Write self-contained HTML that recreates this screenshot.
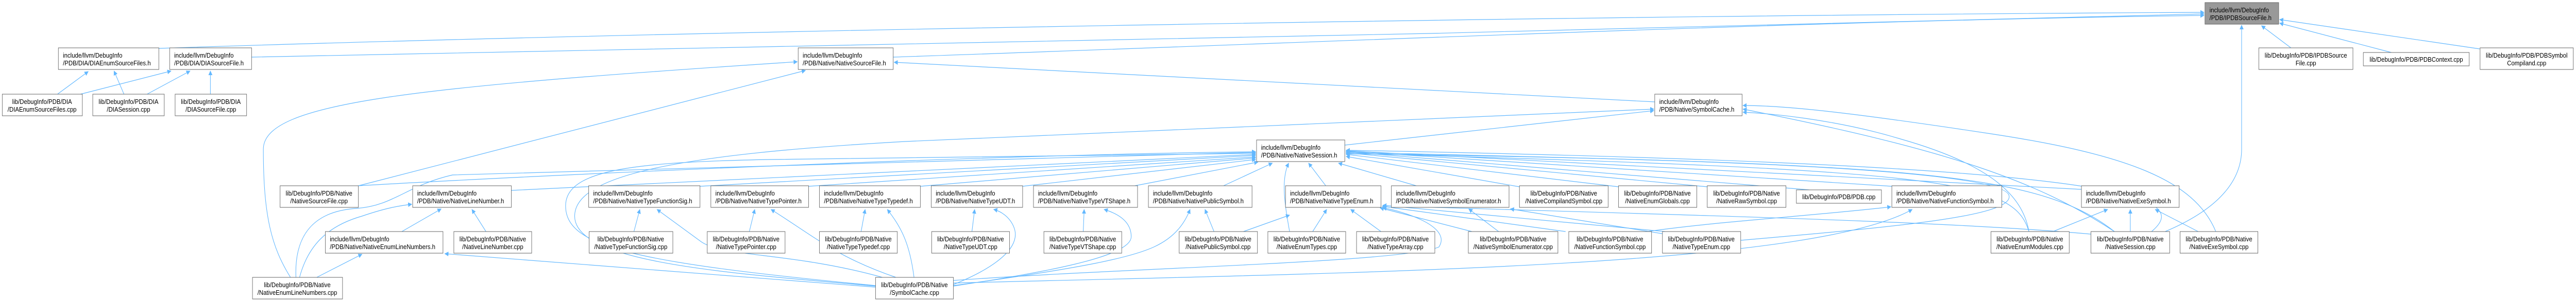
<!DOCTYPE html>
<html><head><meta charset="utf-8"><style>
html,body{margin:0;padding:0;background:#fff;width:100%;height:100%;overflow:hidden;}
svg{display:block;width:100vw;height:100vh;}
text{font-family:"Liberation Sans",Helvetica,sans-serif;font-size:13px;fill:#000;}
.b{fill:#fff;stroke:#666;stroke-width:1;}
.e{fill:none;stroke:#63b8ff;stroke-width:1.2;}
</style></head><body>
<svg viewBox="0 0 5693 583" preserveAspectRatio="none" xmlns="http://www.w3.org/2000/svg">
<defs><marker id="a" viewBox="0 0 10 10" refX="9" refY="5" markerWidth="9" markerHeight="9" orient="auto" markerUnits="userSpaceOnUse"><path d="M0,0 L10,5 L0,10 z" fill="#63b8ff"/></marker></defs>
<g class="e" marker-end="url(#a)">
<path d="M351,94 C1500,60 3500,30 4871,24"/>
<path d="M556,111 C1500,100 3500,60 4871,27"/>
<path d="M1974,111 C3000,80 4000,40 4871,30"/>
<path d="M4785,450 C4920,400 4954,340 4954,290 L4954,49"/>
<path d="M5063,93 L4998,50"/>
<path d="M5285,102 L5038,45"/>
<path d="M5480,95 L5038,38"/>
<path d="M127,183 L195,139"/>
<path d="M274,183 L252,138"/>
<path d="M178,183 L378,138"/>
<path d="M325,183 L420,138"/>
<path d="M465,183 L465,138"/>
<path d="M642,539 C600,480 582,420 582,290 C582,200 900,170 1762,120"/>
<path d="M792,361 L1780,137"/>
<path d="M3657,198 L1976,121"/>
<path d="M1935,556 C1600,530 1270,510 1270,420 C1270,340 1500,300 2000,275 L3655,212"/>
<path d="M2972,282 L3655,215"/>
<path d="M4484,450 C4470,380 4400,320 4200,270 C4050,230 3900,220 3852,218"/>
<path d="M4673,450 C4500,350 4300,290 3852,212"/>
<path d="M4897,450 C4850,350 4700,300 4400,260 C4100,220 3950,205 3852,205"/>
<path d="M792,361 C1200,340 2200,300 2775,295"/>
<path d="M1130,370 L2775,300"/>
<path d="M654,539 C650,450 700,410 788,405 C870,400 900,360 1000,340 L2775,296"/>
<path d="M1547,362 L2775,302"/>
<path d="M1787,362 L2775,305"/>
<path d="M2034,362 L2775,307"/>
<path d="M2260,362 L2775,310"/>
<path d="M2508,361 L2780,315"/>
<path d="M2704,361 L2812,317"/>
<path d="M2930,361 L2892,317"/>
<path d="M3130,361 L2958,317"/>
<path d="M3358,363 L2975,304"/>
<path d="M3577,363 L2975,300"/>
<path d="M3773,363 L2975,297"/>
<path d="M3999,369 L2975,295"/>
<path d="M4181,362 L2975,294"/>
<path d="M4600,368 L2975,293"/>
<path d="M4673,450 C4500,330 4200,320 2975,296"/>
<path d="M4484,450 C4450,350 4300,330 2975,298"/>
<path d="M4755,450 C4850,380 4700,320 2975,292"/>
<path d="M1935,555 C1400,510 1250,480 1250,400 C1250,330 1400,315 1700,310 L2775,298"/>
<path d="M2850,450 C2840,400 2830,350 2848,317"/>
<path d="M1074,450 L1043,407"/>
<path d="M888,450 L975,406"/>
<path d="M662,539 C680,480 720,440 800,420 C850,405 880,400 910,397"/>
<path d="M700,539 L800,494"/>
<path d="M1935,558 L983,493"/>
<path d="M1401,450 L1414,407"/>
<path d="M1950,539 C1750,490 1600,500 1550,470 L1452,407"/>
<path d="M1656,450 L1668,407"/>
<path d="M1980,539 C1850,500 1800,460 1704,407"/>
<path d="M1903,450 L1912,407"/>
<path d="M2020,539 C2010,470 1990,440 1961,407"/>
<path d="M2148,450 L2154,407"/>
<path d="M2107,553 C2200,520 2260,480 2240,440 C2230,420 2210,410 2196,407"/>
<path d="M2394,450 L2396,407"/>
<path d="M2107,556 C2300,530 2500,500 2500,460 C2500,430 2470,415 2440,407"/>
<path d="M2683,450 L2663,407"/>
<path d="M2107,555 C2400,520 2500,500 2550,480 C2600,460 2620,430 2630,407"/>
<path d="M2748,450 L2850,418"/>
<path d="M2901,450 L2932,407"/>
<path d="M3052,450 L2985,407"/>
<path d="M3253,450 L3050,404"/>
<path d="M3460,450 L3055,401"/>
<path d="M3680,450 L3056,399"/>
<path d="M2107,545 C2500,520 3100,510 3180,480 C3210,440 3100,410 3056,404"/>
<path d="M3312,450 L3246,406"/>
<path d="M3680,455 L3338,406"/>
<path d="M3640,450 C3800,430 4000,420 4179,402"/>
<path d="M2107,550 C3000,530 4000,520 4226,407"/>
<path d="M3847,467 C4200,440 4450,420 4440,380 C4430,340 4000,310 2975,299"/>
<path d="M4537,450 L4658,407"/>
<path d="M4708,450 L4708,407"/>
<path d="M4858,450 L4763,407"/>
<path d="M4621,455 C4300,430 3800,420 3056,400"/>
</g>
<g>
<rect x="4873" y="5" width="163" height="42" fill="#999" stroke="#666"/>
<text x="4883" y="24">include/llvm/DebugInfo</text><text x="4883" y="39">/PDB/IPDBSourceFile.h</text>

<rect class="b" x="129" y="93" width="222" height="42"/><text x="139" y="112">include/llvm/DebugInfo</text><text x="139" y="127">/PDB/DIA/DIAEnumSourceFiles.h</text>
<rect class="b" x="375" y="93" width="181" height="42"/><text x="385" y="112">include/llvm/DebugInfo</text><text x="385" y="127">/PDB/DIA/DIASourceFile.h</text>
<rect class="b" x="1764" y="93" width="210" height="42"/><text x="1774" y="112">include/llvm/DebugInfo</text><text x="1774" y="127">/PDB/Native/NativeSourceFile.h</text>
<rect class="b" x="4992" y="93" width="208" height="42"/><text x="5096" y="112" text-anchor="middle">lib/DebugInfo/PDB/IPDBSource</text><text x="5096" y="127" text-anchor="middle">File.cpp</text>
<rect class="b" x="5223" y="102" width="234" height="26"/><text x="5340" y="120" text-anchor="middle">lib/DebugInfo/PDB/PDBContext.cpp</text>
<rect class="b" x="5481" y="93" width="206" height="42"/><text x="5584" y="112" text-anchor="middle">lib/DebugInfo/PDB/PDBSymbol</text><text x="5584" y="127" text-anchor="middle">Compiland.cpp</text>

<rect class="b" x="5" y="183" width="177" height="42"/><text x="93" y="202" text-anchor="middle">lib/DebugInfo/PDB/DIA</text><text x="93" y="217" text-anchor="middle">/DIAEnumSourceFiles.cpp</text>
<rect class="b" x="205" y="183" width="158" height="42"/><text x="284" y="202" text-anchor="middle">lib/DebugInfo/PDB/DIA</text><text x="284" y="217" text-anchor="middle">/DIASession.cpp</text>
<rect class="b" x="387" y="183" width="158" height="42"/><text x="466" y="202" text-anchor="middle">lib/DebugInfo/PDB/DIA</text><text x="466" y="217" text-anchor="middle">/DIASourceFile.cpp</text>
<rect class="b" x="3657" y="183" width="193" height="42"/><text x="3667" y="202">include/llvm/DebugInfo</text><text x="3667" y="217">/PDB/Native/SymbolCache.h</text>

<rect class="b" x="2777" y="272" width="195" height="42"/><text x="2787" y="291">include/llvm/DebugInfo</text><text x="2787" y="306">/PDB/Native/NativeSession.h</text>

<rect class="b" x="619" y="361" width="173" height="42"/><text x="705" y="380" text-anchor="middle">lib/DebugInfo/PDB/Native</text><text x="705" y="395" text-anchor="middle">/NativeSourceFile.cpp</text>
<rect class="b" x="912" y="361" width="218" height="42"/><text x="922" y="380">include/llvm/DebugInfo</text><text x="922" y="395">/PDB/Native/NativeLineNumber.h</text>
<rect class="b" x="1301" y="361" width="246" height="42"/><text x="1311" y="380">include/llvm/DebugInfo</text><text x="1311" y="395">/PDB/Native/NativeTypeFunctionSig.h</text>
<rect class="b" x="1571" y="361" width="216" height="42"/><text x="1581" y="380">include/llvm/DebugInfo</text><text x="1581" y="395">/PDB/Native/NativeTypePointer.h</text>
<rect class="b" x="1811" y="361" width="223" height="42"/><text x="1821" y="380">include/llvm/DebugInfo</text><text x="1821" y="395">/PDB/Native/NativeTypeTypedef.h</text>
<rect class="b" x="2058" y="361" width="202" height="42"/><text x="2068" y="380">include/llvm/DebugInfo</text><text x="2068" y="395">/PDB/Native/NativeTypeUDT.h</text>
<rect class="b" x="2284" y="361" width="230" height="42"/><text x="2294" y="380">include/llvm/DebugInfo</text><text x="2294" y="395">/PDB/Native/NativeTypeVTShape.h</text>
<rect class="b" x="2538" y="361" width="229" height="42"/><text x="2548" y="380">include/llvm/DebugInfo</text><text x="2548" y="395">/PDB/Native/NativePublicSymbol.h</text>
<rect class="b" x="2841" y="361" width="211" height="42"/><text x="2851" y="380">include/llvm/DebugInfo</text><text x="2851" y="395">/PDB/Native/NativeTypeEnum.h</text>
<rect class="b" x="3075" y="361" width="260" height="42"/><text x="3085" y="380">include/llvm/DebugInfo</text><text x="3085" y="395">/PDB/Native/NativeSymbolEnumerator.h</text>
<rect class="b" x="3358" y="361" width="196" height="42"/><text x="3456" y="380" text-anchor="middle">lib/DebugInfo/PDB/Native</text><text x="3456" y="395" text-anchor="middle">/NativeCompilandSymbol.cpp</text>
<rect class="b" x="3577" y="361" width="173" height="42"/><text x="3663" y="380" text-anchor="middle">lib/DebugInfo/PDB/Native</text><text x="3663" y="395" text-anchor="middle">/NativeEnumGlobals.cpp</text>
<rect class="b" x="3773" y="361" width="174" height="42"/><text x="3860" y="380" text-anchor="middle">lib/DebugInfo/PDB/Native</text><text x="3860" y="395" text-anchor="middle">/NativeRawSymbol.cpp</text>
<rect class="b" x="3970" y="369" width="188" height="26"/><text x="4064" y="387" text-anchor="middle">lib/DebugInfo/PDB/PDB.cpp</text>
<rect class="b" x="4181" y="361" width="243" height="42"/><text x="4191" y="380">include/llvm/DebugInfo</text><text x="4191" y="395">/PDB/Native/NativeFunctionSymbol.h</text>
<rect class="b" x="4600" y="361" width="216" height="42"/><text x="4610" y="380">include/llvm/DebugInfo</text><text x="4610" y="395">/PDB/Native/NativeExeSymbol.h</text>

<rect class="b" x="719" y="450" width="260" height="42"/><text x="729" y="469">include/llvm/DebugInfo</text><text x="729" y="484">/PDB/Native/NativeEnumLineNumbers.h</text>
<rect class="b" x="1003" y="450" width="172" height="42"/><text x="1089" y="469" text-anchor="middle">lib/DebugInfo/PDB/Native</text><text x="1089" y="484" text-anchor="middle">/NativeLineNumber.cpp</text>
<rect class="b" x="1302" y="450" width="185" height="42"/><text x="1394" y="469" text-anchor="middle">lib/DebugInfo/PDB/Native</text><text x="1394" y="484" text-anchor="middle">/NativeTypeFunctionSig.cpp</text>
<rect class="b" x="1563" y="450" width="172" height="42"/><text x="1649" y="469" text-anchor="middle">lib/DebugInfo/PDB/Native</text><text x="1649" y="484" text-anchor="middle">/NativeTypePointer.cpp</text>
<rect class="b" x="1811" y="450" width="172" height="42"/><text x="1897" y="469" text-anchor="middle">lib/DebugInfo/PDB/Native</text><text x="1897" y="484" text-anchor="middle">/NativeTypeTypedef.cpp</text>
<rect class="b" x="2059" y="450" width="172" height="42"/><text x="2145" y="469" text-anchor="middle">lib/DebugInfo/PDB/Native</text><text x="2145" y="484" text-anchor="middle">/NativeTypeUDT.cpp</text>
<rect class="b" x="2307" y="450" width="172" height="42"/><text x="2393" y="469" text-anchor="middle">lib/DebugInfo/PDB/Native</text><text x="2393" y="484" text-anchor="middle">/NativeTypeVTShape.cpp</text>
<rect class="b" x="2606" y="450" width="173" height="42"/><text x="2692" y="469" text-anchor="middle">lib/DebugInfo/PDB/Native</text><text x="2692" y="484" text-anchor="middle">/NativePublicSymbol.cpp</text>
<rect class="b" x="2802" y="450" width="172" height="42"/><text x="2888" y="469" text-anchor="middle">lib/DebugInfo/PDB/Native</text><text x="2888" y="484" text-anchor="middle">/NativeEnumTypes.cpp</text>
<rect class="b" x="2998" y="450" width="173" height="42"/><text x="3084" y="469" text-anchor="middle">lib/DebugInfo/PDB/Native</text><text x="3084" y="484" text-anchor="middle">/NativeTypeArray.cpp</text>
<rect class="b" x="3245" y="450" width="198" height="42"/><text x="3344" y="469" text-anchor="middle">lib/DebugInfo/PDB/Native</text><text x="3344" y="484" text-anchor="middle">/NativeSymbolEnumerator.cpp</text>
<rect class="b" x="3467" y="450" width="183" height="42"/><text x="3558" y="469" text-anchor="middle">lib/DebugInfo/PDB/Native</text><text x="3558" y="484" text-anchor="middle">/NativeFunctionSymbol.cpp</text>
<rect class="b" x="3674" y="450" width="173" height="42"/><text x="3760" y="469" text-anchor="middle">lib/DebugInfo/PDB/Native</text><text x="3760" y="484" text-anchor="middle">/NativeTypeEnum.cpp</text>
<rect class="b" x="4400" y="450" width="173" height="42"/><text x="4486" y="469" text-anchor="middle">lib/DebugInfo/PDB/Native</text><text x="4486" y="484" text-anchor="middle">/NativeEnumModules.cpp</text>
<rect class="b" x="4621" y="450" width="174" height="42"/><text x="4708" y="469" text-anchor="middle">lib/DebugInfo/PDB/Native</text><text x="4708" y="484" text-anchor="middle">/NativeSession.cpp</text>
<rect class="b" x="4818" y="450" width="172" height="42"/><text x="4904" y="469" text-anchor="middle">lib/DebugInfo/PDB/Native</text><text x="4904" y="484" text-anchor="middle">/NativeExeSymbol.cpp</text>

<rect class="b" x="558" y="539" width="199" height="42"/><text x="657" y="558" text-anchor="middle">lib/DebugInfo/PDB/Native</text><text x="657" y="573" text-anchor="middle">/NativeEnumLineNumbers.cpp</text>
<rect class="b" x="1935" y="539" width="172" height="42"/><text x="2021" y="558" text-anchor="middle">lib/DebugInfo/PDB/Native</text><text x="2021" y="573" text-anchor="middle">/SymbolCache.cpp</text>
</g>
</svg>
</body></html>
